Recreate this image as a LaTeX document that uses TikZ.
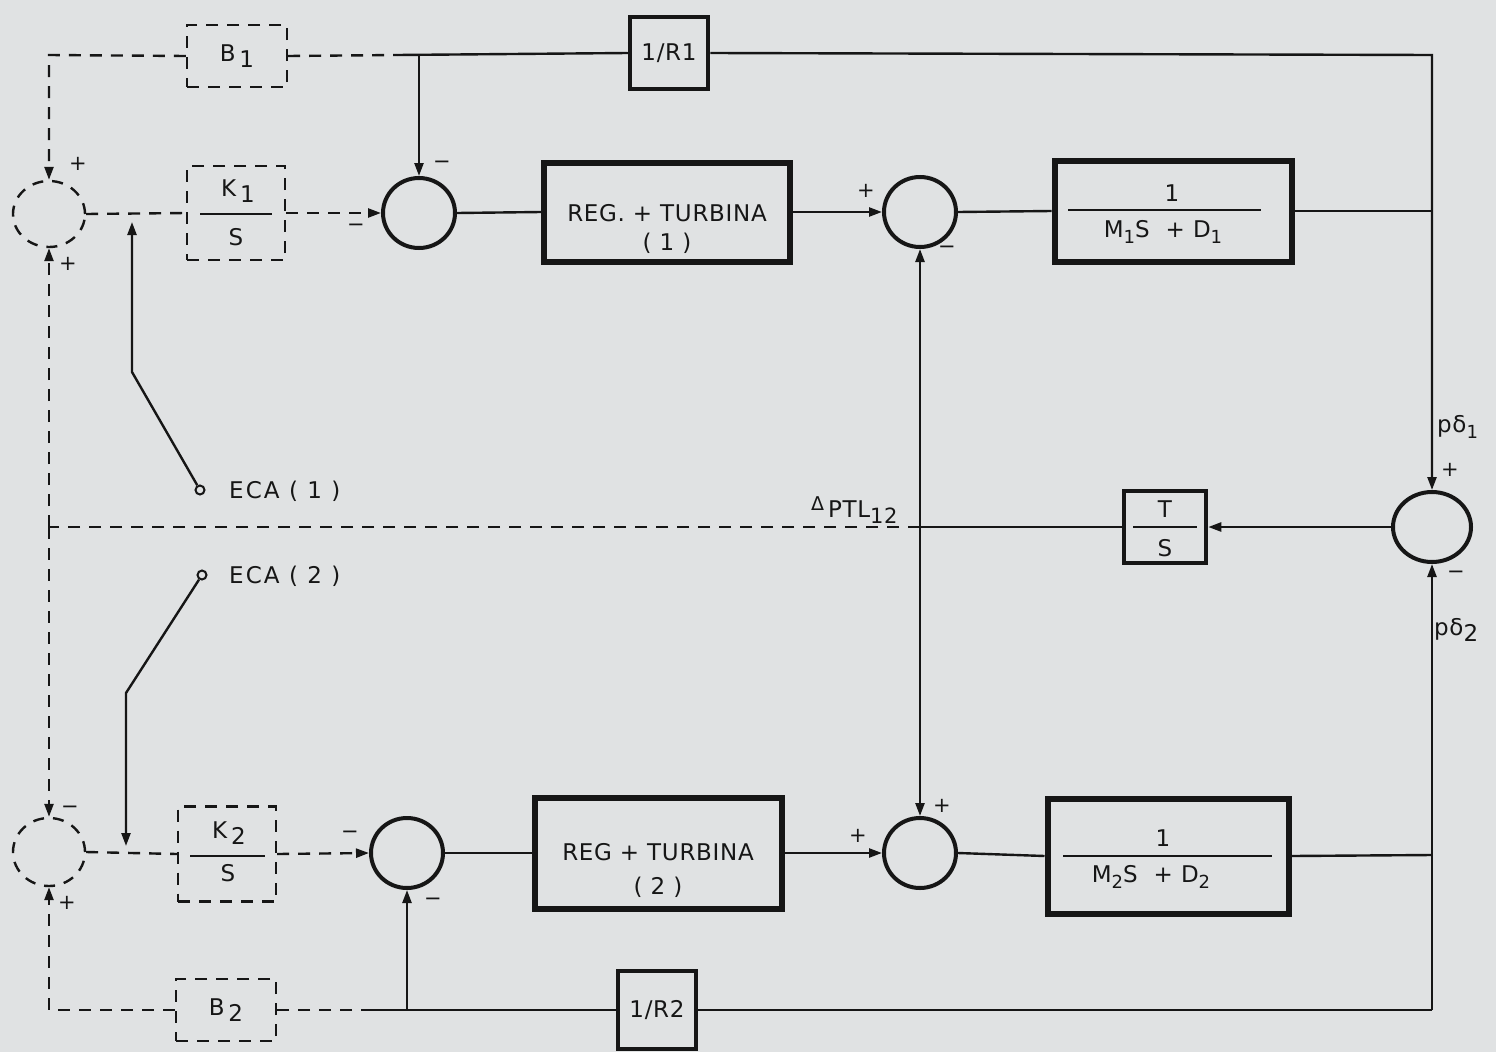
\documentclass[tikz,border=0pt]{standalone}
\usepackage{fontspec}
\setmainfont{DejaVu Sans}[LetterSpace=3]
\newfontfamily\widefont{DejaVu Sans}[LetterSpace=9]
\usetikzlibrary{arrows.meta,calc,shapes.geometric}
\definecolor{paper}{RGB}{224,226,227}
\definecolor{ink}{RGB}{22,22,22}
\newcommand{\sbs}[1]{\raisebox{-0.45ex}{#1}}
\newcommand{\ssb}[1]{\raisebox{-0.45ex}{\fontsize{18}{18}\selectfont #1}}
\begin{document}
\begin{tikzpicture}[x=1pt,y=-1pt,
  every node/.style={font=\fontsize{23}{27}\selectfont, text=ink, inner sep=0pt},
  sig/.style={draw=ink, line width=2.4pt},
  dsig/.style={draw=ink, line width=2.4pt, dash pattern=on 12pt off 9pt},
  arr/.style={-{Triangle[length=13pt,width=9pt]}},
  dbox/.style={draw=ink, line width=2.4pt, dash pattern=on 12pt off 9pt, rectangle},
  sbox/.style={draw=ink, line width=4.5pt, rectangle},
  bbox/.style={draw=ink, line width=6pt, rectangle},
  sumj/.style={draw=ink, line width=4pt, ellipse, minimum width=72, minimum height=70},
  dsumj/.style={draw=ink, line width=2.4pt, dash pattern=on 11pt off 9pt, ellipse, minimum width=72, minimum height=66},
  bar/.style={draw=ink, line width=2pt},
  sgn/.style={font=\fontsize{21}{23}\selectfont}
]
\fill[paper] (0,0) rectangle (1496,1052);
\useasboundingbox (0,0) rectangle (1496,1052);

% ---- blocks, top
\node[dbox, minimum width=100, minimum height=62] (B1) at (237,56) {B\,\sbs{1}};
\node[dbox, minimum width=98, minimum height=94] (K1) at (236,213) {};
\node (K1n) at (238,191) {K\,\sbs{1}};
\node (K1d) at (236,237) {S};
\draw[bar] ($(K1.center)+(-36,1)$) -- ($(K1.center)+(36,1)$);
\node[sbox, minimum width=78, minimum height=72] (R1) at (669,53) {1/R1};
\node[bbox, minimum width=246, minimum height=99] (REG1) at (667,212) {};
\node (REG1a) at (667,213) {REG. + TURBINA};
\node (REG1b) at (667,243) {( 1 )};
\node[bbox, minimum width=237, minimum height=101] (M1) at (1173,211) {};
\node (M1n) at (1172,193) {1};
\draw[bar] ($(M1.center)+(-105,-1)$) -- ($(M1.center)+(88,-1)$);
\node (M1d) at (1163,232) {M\ssb{1}S \ + D\ssb{1}};

% ---- T/S
\node[sbox, minimum width=82, minimum height=72] (TS) at (1165,527) {};
\node (TSn) at (1165,509) {T};
\node (TSd) at (1165,548) {S};
\draw[bar] ($(TS.center)+(-32,0)$) -- ($(TS.center)+(32,0)$);

% ---- blocks, bottom
\node[dbox, minimum width=98, minimum height=95] (K2) at (227,854) {};
\node (K2n) at (229,833) {K\,\sbs{2}};
\node (K2d) at (228,873) {S};
\draw[bar] ($(K2.center)+(-37,2)$) -- ($(K2.center)+(38,2)$);
\node[dbox, minimum width=100, minimum height=62] (B2) at (226,1010) {B\,\sbs{2}};
\node[bbox, minimum width=247, minimum height=111] (REG2) at (658,853) {};
\node (REG2a) at (658,852) {REG + TURBINA};
\node (REG2b) at (658,887) {( 2 )};
\node[bbox, minimum width=241, minimum height=115] (M2) at (1168,856) {};
\node (M2n) at (1163,838) {1};
\draw[bar] ($(M2.center)+(-105,0)$) -- ($(M2.center)+(104,0)$);
\node (M2d) at (1151,877) {M\ssb{2}S \ + D\ssb{2}};
\node[sbox, minimum width=78, minimum height=78] (R2) at (657,1010) {1/R2};

% ---- summing junctions
\node[dsumj] (j0) at (49,214) {};
\node[dsumj, minimum height=68] (j2) at (49,852) {};
\node[sumj] (j1) at (419,213) {};
\node[sumj] (j3) at (920,212) {};
\node[sumj] (j5) at (407,853) {};
\node[sumj] (j4) at (920,853) {};
\node[sumj, minimum width=78, minimum height=70] (jR) at (1432,527) {};

% ---- coordinates
\coordinate (tl) at (49,55);
\coordinate (b1s) at (397,55);
\coordinate (br1) at (419,55);
\coordinate (tr) at (1432,55);
\coordinate (m1r) at (1432,211);
\coordinate (pj) at (920,527);
\coordinate (lj) at (49,527);
\coordinate (m2r) at (1432,855);
\coordinate (brc) at (1432,1010);
\coordinate (b2s) at (373,1010);
\coordinate (br2) at (407,1010);
\coordinate (bl) at (49,1010);
\coordinate (s1b) at (132,372);
\coordinate (s1c) at (132,222);
\coordinate (s2b) at (126,693);
\coordinate (s2c) at (126,846);

% ---- connectors, top
\draw[dsig, arr] (B1.west) -- (tl) -- (j0.north);
\draw[dsig] (B1.east) -- (b1s);
\draw[sig] (b1s) -- (R1.west);
\draw[sig, arr] (R1.east) -- (tr) -- (jR.north);
\draw[sig, arr] (br1) -- (j1.north);
\draw[dsig] (j0.east) -- (K1.west);
\draw[dsig, arr] (K1.east) -- (j1.west);
\draw[sig] (j1.east) -- (REG1.west);
\draw[sig, arr] (REG1.east) -- (j3.west);
\draw[sig] (j3.east) -- (M1.west);
\draw[sig] (M1.east) -- (m1r);

% ---- tie line
\draw[sig, arr] (jR.west) -- (TS.east);
\draw[sig] (TS.west) -- (pj);
\draw[sig, arr] (pj) -- (j3.south);
\draw[sig, arr] (pj) -- (j4.north);
\draw[dsig] (pj) -- (lj);
\draw[dsig, arr] (lj) -- (j0.south);
\draw[dsig, arr] (lj) -- (j2.north);

% ---- connectors, bottom
\draw[dsig] (j2.east) -- (K2.west);
\draw[dsig, arr] (K2.east) -- (j5.west);
\draw[sig] (j5.east) -- (REG2.west);
\draw[sig, arr] (REG2.east) -- (j4.west);
\draw[sig] (j4.east) -- (M2.west);
\draw[sig] (M2.east) -- (m2r);
\draw[sig, arr] (brc) -- (jR.south);
\draw[sig] (brc) -- (R2.east);
\draw[sig] (R2.west) -- (b2s);
\draw[dsig] (b2s) -- (B2.east);
\draw[dsig, arr] (B2.west) -- (bl) -- (j2.south);
\draw[sig, arr] (br2) -- (j5.south);

% ---- ECA switches
\node[draw=ink, line width=2pt, circle, minimum size=9] (e1) at (200,490) {};
\node[draw=ink, line width=2pt, circle, minimum size=9] (e2) at (202,575) {};
\draw[sig, arr] (e1) -- (s1b) -- (s1c);
\draw[sig, arr] (e2) -- (s2b) -- (s2c);
\node[anchor=west, font=\widefont\fontsize{23}{27}\selectfont] (eca1) at (229,491) {ECA ( 1 )};
\node[anchor=west, font=\widefont\fontsize{23}{27}\selectfont] (eca2) at (229,576) {ECA ( 2 )};

% ---- labels
\node[anchor=west] (dptl) at (811,510) {\raisebox{0.55ex}{\fontsize{19}{19}\selectfont Δ}\,PTL\sbs{\fontsize{21}{21}\selectfont 12}};
\node[anchor=west] (pd1) at (1437,427) {pδ\sbs{\fontsize{18}{18}\selectfont 1}};
\node[anchor=west] (pd2) at (1434,630) {pδ\sbs{2}};

\node[sgn] (p0a) at (78,164) {+};
\node[sgn] (p0b) at (68,264) {+};
\node[sgn] (m1a) at (356,228) {−};
\node[sgn] (m1b) at (442,165) {−};
\node[sgn] (p3a) at (866,191) {+};
\node[sgn] (m3a) at (947,250) {−};
\node[sgn] (pRa) at (1450,470) {+};
\node[sgn] (mRa) at (1456,575) {−};
\node[sgn] (m2a) at (70,810) {−};
\node[sgn] (p2a) at (67,903) {+};
\node[sgn] (m5a) at (350,835) {−};
\node[sgn] (m5b) at (433,902) {−};
\node[sgn] (p4a) at (858,836) {+};
\node[sgn] (p4b) at (942,806) {+};
\end{tikzpicture}
\end{document}
